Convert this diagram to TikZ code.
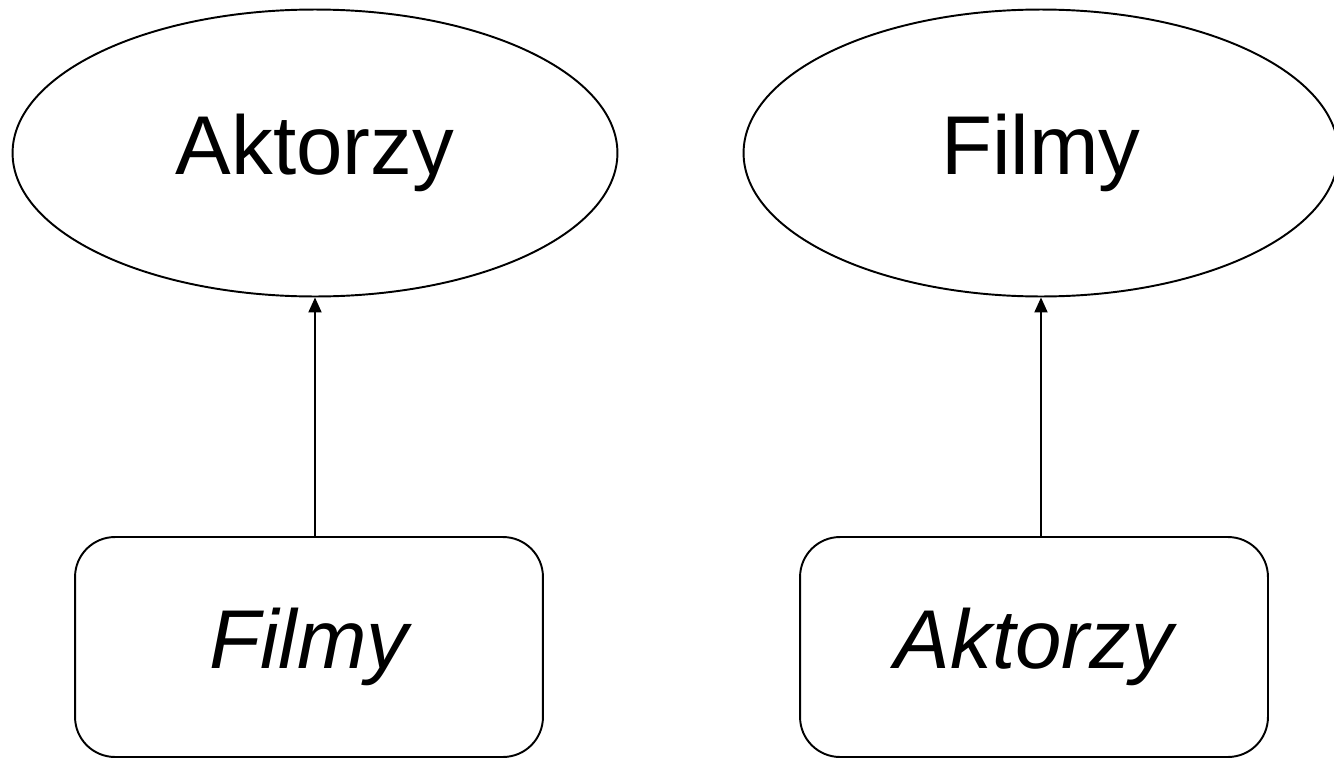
\documentclass[tikz,border=0pt]{standalone}
\usepackage{fontspec}
\setmainfont{Liberation Sans}
\usetikzlibrary{shapes.geometric,arrows.meta,positioning}

\begin{document}
\begin{tikzpicture}[
    x=0.02cm, y=-0.02cm,
    entity/.style={ellipse, draw, line width=1.1pt, inner sep=0pt, minimum height=5.74cm, font=\fontsize{47.5}{56}\selectfont},
    refbox/.style={rectangle, draw, line width=1.1pt, rounded corners=0.8cm, inner sep=0pt, minimum width=9.36cm, minimum height=4.4cm, font=\fontsize{47.5}{56}\selectfont\itshape},
    link/.style={-{Triangle[width=0.26cm,length=0.3cm]}, line width=1.1pt}
]
\useasboundingbox (0,0) rectangle (1334,764);

\node[entity, minimum width=12.1cm] (aktorzy) at (315,153) {Aktorzy};
\node[entity, minimum width=11.9cm] (filmy) at (1041,153) {Filmy};

\node[refbox] (aktref) at (309,647) {Filmy};
\node[refbox] (filmref) at (1034,647) {Aktorzy};

\draw[link] (aktref.north -| aktorzy.south) -- (aktorzy.south);
\draw[link] (filmref.north -| filmy.south) -- (filmy.south);

\end{tikzpicture}
\end{document}
